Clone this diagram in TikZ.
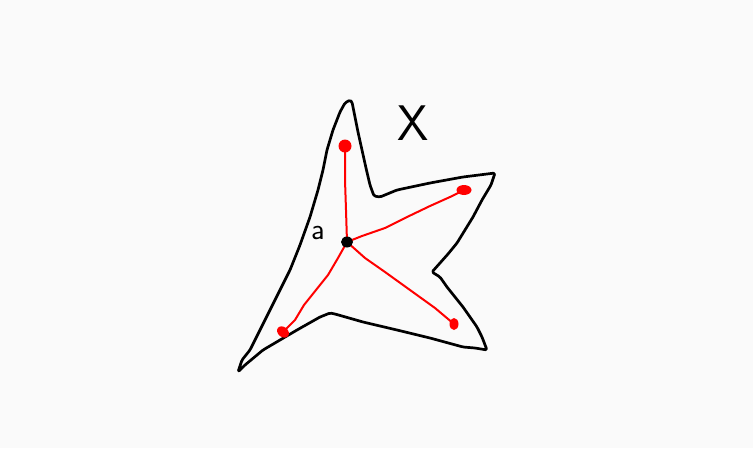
\documentclass[tikz,border=0pt]{standalone}
\usepackage{fontspec}
\begin{document}
\begin{tikzpicture}[x=1pt,y=-1pt,
  outline/.style={draw=black,line width=2.7pt,line join=round,line cap=round,rounded corners=1.5pt},
  redline/.style={draw=red,line width=2pt,line cap=round,line join=round},
  lbl/.style={inner sep=0pt}]
\fill[fill={rgb,255:red,250;green,250;blue,250}] (0,0) rectangle (753,448);
\useasboundingbox (0,0) rectangle (753,448);
% outline of X
\draw[outline] (345,103) -- (350,100) -- (352,102) -- (355,117) -- (358,132) -- (362,150) -- (366,168) -- (370,185) -- (374,196) -- (380,197) -- (397,190) -- (430,183) -- (463,177) -- (495,173) -- (491,185) -- (482,200) -- (473,217) -- (465,230) -- (457,243) -- (448,254) -- (440,263) -- (432,272) -- (440,277) -- (447,287) -- (455,297) -- (463,307) -- (470,317) -- (477,327) -- (482,337) -- (487,350) -- (475,348) -- (463,347) -- (430,338) -- (397,330) -- (363,322) -- (335,314) -- (330,313) -- (320,317) -- (297,330) -- (263,350) -- (245,365) -- (238,372) -- (242,360) -- (250,350) -- (270,310) -- (290,270) -- (300,245) -- (310,217) -- (318,190) -- (323,170) -- (327,150) -- (333,130) -- (340,112) -- cycle;
% points
\coordinate (C) at (347,242);
\coordinate (T) at (345,146);
\coordinate (R) at (464,190);
\coordinate (BL) at (283,332);
\coordinate (BR) at (454,324);
% red paths
\draw[redline] (C) -- (346,210) -- (345,180) -- (T);
\draw[redline] (C) -- (362,236) -- (385,228) -- (405,218) -- (430,206) -- (450,197) -- (R);
\draw[redline] (C) -- (338,258) -- (328,275) -- (316,290) -- (304,305) -- (295,320) -- (BL);
\draw[redline] (C) -- (365,258) -- (385,272) -- (410,290) -- (435,308) -- (BR);
% dots
\fill[red] (T) ellipse [x radius=6.5pt,y radius=6.5pt];
\fill[red] (R) ellipse [x radius=7.5pt,y radius=5pt];
\fill[red, rotate around={-40:(BL)}] (BL) ellipse [x radius=6.5pt,y radius=5pt];
\fill[red] (BR) ellipse [x radius=4.5pt,y radius=6pt];
\fill[black] (C) ellipse [x radius=6pt,y radius=5.5pt];
% labels
\node[lbl,font=\sffamily\fontsize{30}{30}\selectfont] (la) at (318,233) {a};
\node[lbl,font=\sffamily\fontsize{50}{50}\selectfont] (lX) at (413,123) {X};
\end{tikzpicture}
\end{document}
